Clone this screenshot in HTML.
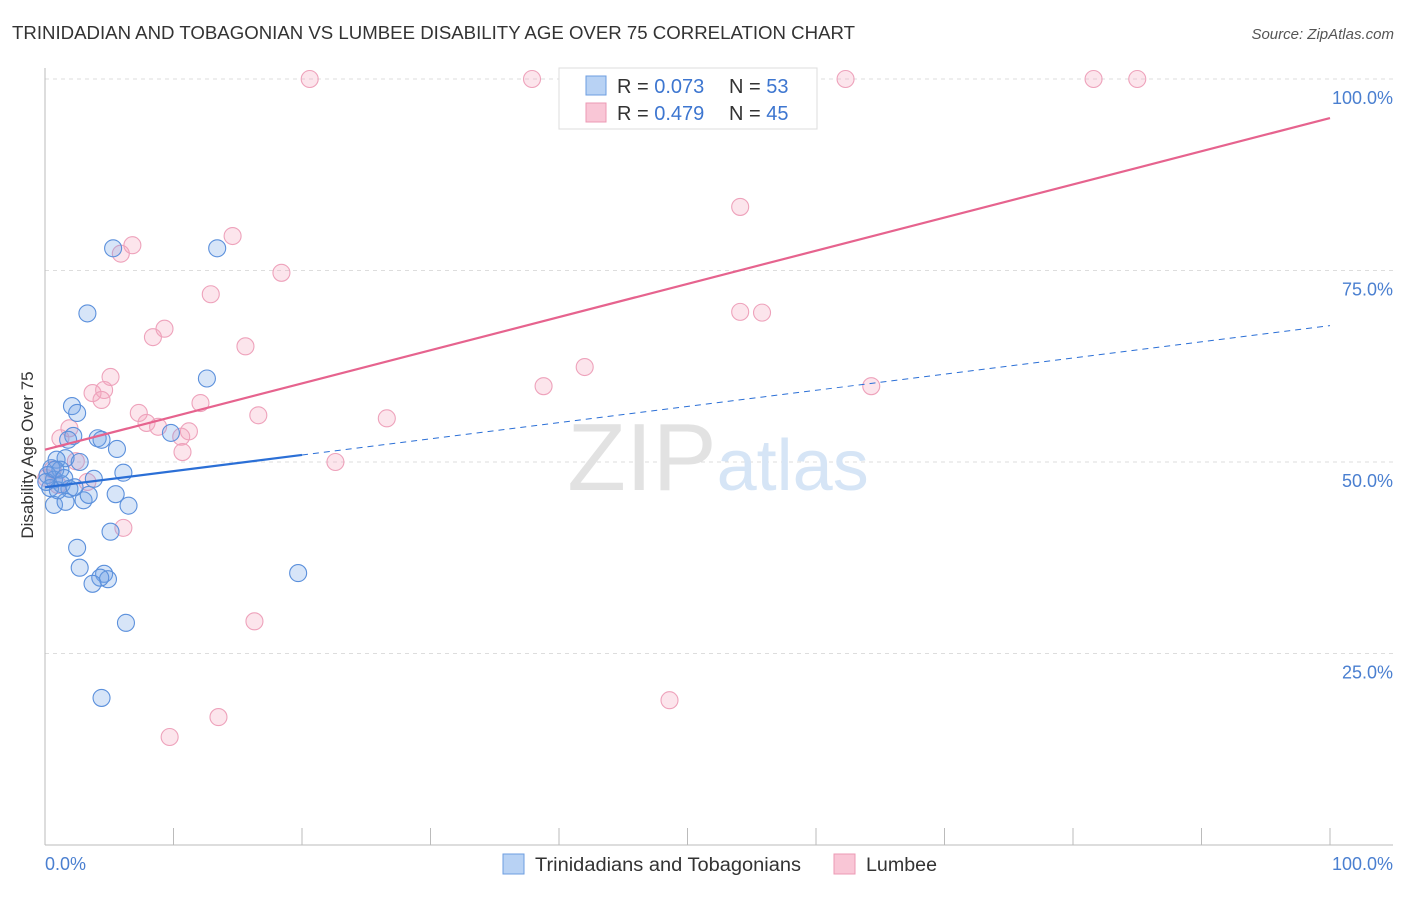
<!DOCTYPE html>
<html><head><meta charset="utf-8"><style>
body{margin:0;background:#fff;font-family:"Liberation Sans",sans-serif}
svg text{font-family:"Liberation Sans",sans-serif}
</style></head><body>
<svg width="1406" height="892">
<text x="12" y="39" font-size="18" fill="#333" textLength="843" lengthAdjust="spacingAndGlyphs">TRINIDADIAN AND TOBAGONIAN VS LUMBEE DISABILITY AGE OVER 75 CORRELATION CHART</text>
<text x="1394" y="39" font-size="15" fill="#555" font-style="italic" text-anchor="end">Source: ZipAtlas.com</text>
<g id="grid"></g>
<text x="718" y="490" font-size="96" fill="#e2e2e2" text-anchor="middle" font-family="Liberation Serif">ZIP<tspan fill="#d6e5f6" font-family="Liberation Sans" font-size="72">atlas</tspan></text>
<line x1="45" y1="68" x2="45" y2="845" stroke="#bbb"/>
<line x1="45" y1="845" x2="1393" y2="845" stroke="#bbb"/>
<g id="marks"></g>
<text x="33" y="455" font-size="17" fill="#333" text-anchor="middle" transform="rotate(-90 33 455)">Disability Age Over 75</text>
<text x="45" y="870" font-size="18" fill="#4a7fd0">0.0%</text>
<text x="1393" y="870" font-size="18" fill="#4a7fd0" text-anchor="end">100.0%</text>
<g>
<rect x="559" y="68" width="258" height="61" fill="#fff" stroke="#ddd"/>
<rect x="586" y="76" width="20" height="19" fill="#b8d2f4" stroke="#6d9ee0"/>
<rect x="586" y="103" width="20" height="19" fill="#f9c6d6" stroke="#ec9ab4"/>
<text x="617" y="93" font-size="20" fill="#333">R = <tspan fill="#3d76d0">0.073</tspan></text>
<text x="729" y="93" font-size="20" fill="#333">N = <tspan fill="#3d76d0">53</tspan></text>
<text x="617" y="120" font-size="20" fill="#333">R = <tspan fill="#3d76d0">0.479</tspan></text>
<text x="729" y="120" font-size="20" fill="#333">N = <tspan fill="#3d76d0">45</tspan></text>
</g>
<g>
<rect x="503" y="854" width="21" height="20" fill="#b8d2f4" stroke="#6d9ee0"/>
<text x="535" y="871" font-size="19" fill="#333" textLength="266" lengthAdjust="spacingAndGlyphs">Trinidadians and Tobagonians</text>
<rect x="834" y="854" width="21" height="20" fill="#f9c6d6" stroke="#ec9ab4"/>
<text x="866" y="871" font-size="19" fill="#333" textLength="71" lengthAdjust="spacingAndGlyphs">Lumbee</text>
</g>
</svg>
<script>
const yTicks=[25,50,75,100];
const yTickLabels=["25.0%","50.0%","75.0%","100.0%"];
const blueX=[5.3,13.4,3.3,12.6,2.1,2.5,2.2,4.1,4.4,5.6,9.8,1.8,1.6,2.7,0.9,0.5,1.2,0.2,0.7,0.4,1.3,1.9,3.8,6.1,3.0,3.4,5.5,0.7,1.6,6.5,5.1,2.5,2.7,4.6,4.9,4.3,3.7,19.7,6.3,4.4,1.0,0.1,0.8,1.5,2.3];
const blueY=[77.9,77.9,69.4,60.9,57.3,56.4,53.4,53.1,52.9,51.7,53.8,52.9,50.5,50.0,50.3,49.2,49.0,48.3,47.7,46.6,47.1,46.5,47.8,48.6,45.0,45.7,45.8,44.4,44.8,44.3,40.9,38.8,36.2,35.4,34.7,34.9,34.1,35.5,29.0,19.2,46.3,47.4,49.0,47.9,46.7];
const pinkX=[20.6,37.9,62.3,81.6,85.0,54.1,14.6,6.8,5.9,18.4,12.9,9.3,8.4,54.1,55.8,15.6,42.0,5.1,38.8,3.7,4.6,4.4,64.3,12.1,7.3,16.6,26.6,7.9,8.8,11.2,1.9,1.2,10.6,10.7,2.4,22.6,3.3,6.1,16.3,48.6,13.5,9.7,0.6,0.1,1.0];
const pinkY=[100,100,100,100,100,83.3,79.5,78.3,77.2,74.7,71.9,67.4,66.3,69.6,69.5,65.1,62.4,61.1,59.9,59.0,59.4,58.1,59.9,57.7,56.4,56.1,55.7,55.1,54.6,54.0,54.4,53.1,53.3,51.3,50.1,50.0,47.4,41.4,29.2,18.9,16.7,14.1,49.0,47.9,47.0];
const blueTrend=[46.7,67.8];
const pinkTrend=[51.6,94.9];
const blueSolidEnd=20;
const NS="http://www.w3.org/2000/svg";
const xs=v=>45+v*12.85, ys=v=>845-v*7.66;
const grid=document.getElementById('grid'), marks=document.getElementById('marks');
function mk(tag,attrs,parent){const e=document.createElementNS(NS,tag);for(const k in attrs)e.setAttribute(k,attrs[k]);parent.appendChild(e);return e;}
yTicks.forEach((t,i)=>{
 const l=mk('line',{x1:45,x2:1393,y1:ys(t),y2:ys(t),stroke:'#ddd','stroke-dasharray':'4,4'},grid);
 
 
 const tx=mk('text',{x:1393,y:ys(t)+25,'font-size':18,fill:'#4a7fd0','text-anchor':'end'},grid);
 tx.textContent=yTickLabels[i];
 
 
});
for(let i=0;i<=10;i++){
 const l=mk('line',{x1:xs(i*10),x2:xs(i*10),y1:828,y2:845,stroke:'#bbb'},grid);
 
 
}
function dots(X,Y,fill,stroke,name){X.forEach((x,i)=>{
 const c=mk('circle',{cx:xs(x),cy:ys(Y[i]),r:8.5,fill:fill,stroke:stroke,'stroke-width':1.1},marks);
 
 
});}
dots(pinkX,pinkY,'rgba(244,160,188,0.28)','#eea2bb','lumbee-point');
dots(blueX,blueY,'rgba(110,160,230,0.28)','#5b90dc','trinidadian-point');
const yb=x=>blueTrend[0]+(blueTrend[1]-blueTrend[0])*x/100;
let l1=mk('line',{x1:xs(0),y1:ys(yb(0)),x2:xs(blueSolidEnd),y2:ys(yb(blueSolidEnd)),stroke:'#2b6fd6','stroke-width':2.2},marks);


let l2=mk('line',{x1:xs(blueSolidEnd),y1:ys(yb(blueSolidEnd)),x2:xs(100),y2:ys(yb(100)),stroke:'#2b6fd6','stroke-width':1,'stroke-dasharray':'6,5'},marks);


let l3=mk('line',{x1:xs(0),y1:ys(pinkTrend[0]),x2:xs(100),y2:ys(pinkTrend[1]),stroke:'#e6638e','stroke-width':2.2},marks);


</script>
</body></html>
